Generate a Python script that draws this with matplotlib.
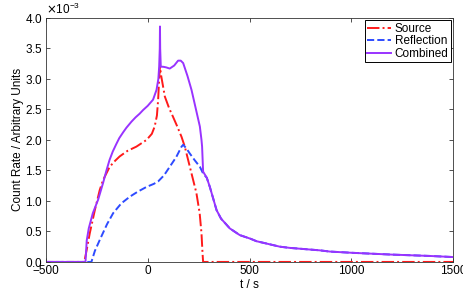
import matplotlib
matplotlib.use("Agg")
import matplotlib.pyplot as plt
from matplotlib.ticker import ScalarFormatter

plt.rcParams["font.family"] = ["Liberation Sans", "DejaVu Sans"]
plt.rcParams["font.size"] = 8.5

# values (t in s, rate in arbitrary units)
src_t = [-500, -312, -300, -285, -260, -236, -220, -187, -160, -138, -100, -56, -6, 20, 34,
         45, 51, 56, 60, 66, 84, 105, 124, 145, 166, 182, 200, 215, 239, 255, 264, 269, 272, 1500]
src_y = [0, 0, 0.2, 0.47, 0.85, 1.18, 1.34, 1.56, 1.66, 1.73, 1.82, 1.89, 2.0, 2.1, 2.22,
         2.4, 2.66, 3.0, 3.2, 3.05, 2.71, 2.52, 2.38, 2.22, 2.05, 1.89, 1.65, 1.45, 1.13, 0.8, 0.47, 0.15, 0, 0]

ref_t = [-500, -277, -260, -236, -200, -170, -130, -88, -50, -6, 30, 51, 80, 108, 140, 166,
         174, 190, 206, 230, 256, 272, 290, 305, 338, 360, 387, 403, 452, 505, 534, 649, 698,
         845, 894, 1001, 1200, 1386, 1500]
ref_y = [0, 0, 0.18, 0.36, 0.62, 0.80, 0.96, 1.07, 1.15, 1.23, 1.28, 1.32, 1.42, 1.56, 1.72, 1.89,
         1.92, 1.86, 1.78, 1.67, 1.56, 1.45, 1.38, 1.23, 0.85, 0.71, 0.61, 0.55, 0.44, 0.38, 0.34, 0.25, 0.23,
         0.19, 0.17, 0.15, 0.12, 0.098, 0.08]

comb_t = [-500, -306, -300, -290, -270, -244, -220, -203, -188, -172, -155, -140, -120, -105, -80,
          -60, -40, -23, 0, 26, 43, 52, 56, 59, 60, 61, 64, 75, 90, 108, 130, 149, 162, 174, 195,
          215, 256, 264, 267, 272, 290, 305, 338, 360, 387, 403, 452, 505, 534, 649, 698, 845, 894,
          1001, 1200, 1386, 1500]
comb_y = [0, 0, 0.35, 0.55, 0.8, 1.02, 1.29, 1.50, 1.67, 1.81, 1.93, 2.03, 2.13, 2.20, 2.30,
          2.37, 2.43, 2.49, 2.56, 2.66, 2.82, 3.0, 3.2, 3.5, 3.86, 3.5, 3.2, 3.2, 3.19, 3.17, 3.22,
          3.30, 3.30, 3.26, 3.05, 2.82, 2.22, 2.0, 1.89, 1.48, 1.38, 1.23, 0.85, 0.71, 0.61, 0.55,
          0.44, 0.38, 0.34, 0.25, 0.23, 0.19, 0.17, 0.15, 0.12, 0.098, 0.08]

scale = 1e-3

fig = plt.figure(figsize=(4.63, 2.99), dpi=100)
ax = fig.add_axes([0.0994, 0.124, 0.879, 0.816])

ax.plot(src_t, [v * scale for v in src_y], color="#ff1a1a", linestyle="-.", lw=1.4, label="Source")
ax.plot(ref_t, [v * scale for v in ref_y], color="#2e4bff", linestyle="--", lw=1.4, label="Reflection")
ax.plot(comb_t, [v * scale for v in comb_y], color="#9933ff", linestyle="-", lw=1.4, label="Combined")

ax.set_xlim(-500, 1500)
ax.set_ylim(0, 4e-3)
ax.set_xticks([-500, 0, 500, 1000, 1500])
ax.set_yticks([i * 0.5e-3 for i in range(9)])

fmt = ScalarFormatter(useMathText=True)
fmt.set_powerlimits((0, 0))
ax.yaxis.set_major_formatter(fmt)
ax.yaxis.get_offset_text().set_fontsize(8.5)

ax.tick_params(direction="in", top=True, right=True, length=3, width=0.6, colors="#333333",
               labelcolor="black", labelsize=8.5, pad=2)
for s in ax.spines.values():
    s.set_linewidth(0.6)
    s.set_color("#333333")

ax.set_xlabel("t / s", labelpad=1.5)
ax.set_ylabel("Count Rate / Arbitrary Units", labelpad=1)

leg = ax.legend(loc="upper right", fancybox=False, edgecolor="black", framealpha=1,
                handlelength=2.0, handletextpad=0.3, borderpad=0.2, labelspacing=0.05,
                borderaxespad=0.2)
leg.get_frame().set_linewidth(0.7)

fig.savefig("out.png", dpi=100)
